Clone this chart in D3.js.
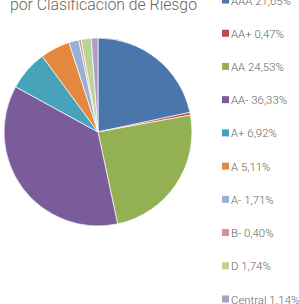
<!DOCTYPE html>
<html><head><meta charset="utf-8">
<script src="https://cdn.jsdelivr.net/npm/d3@7"></script>
<style>body{margin:0;background:#fff;}svg{display:block;}</style>
</head><body>
<svg id="c" width="299" height="304"></svg>
<script>
const categories = ["AAA","AA+","AA","AA-","A+","A","A-","B-","D","Central"];
const values = [21.65,0.47,24.53,36.33,6.92,5.11,1.71,0.40,1.74,1.14];
const labels = ["AAA 21,65%","AA+ 0,47%","AA 24,53%","AA- 36,33%","A+ 6,92%","A 5,11%","A- 1,71%","B- 0,40%","D 1,74%","Central 1.14%"];
const colors = ["#4A76AC","#BE4B48","#93B152","#7A5C9A","#47A3BA","#E4883F","#98AFD6","#D69391","#BDD395","#AE9DC4"];
const title = ["Cartera por Sector","por Clasificación de Riesgo"];

const svg = d3.select("#c");
const font = "'Roboto','Lato',sans-serif";
svg.append("text").attr("x",10).attr("y",10).attr("fill","#666")
  .attr("font-family",font).attr("font-weight",300).attr("font-size",16.5)
  .attr("textLength",187).attr("lengthAdjust","spacingAndGlyphs").text(title[1]);

const pie = d3.pie().sort(null).value(d=>d)(values);
const arc = d3.arc().innerRadius(0).outerRadius(94);
const g = svg.append("g").attr("transform","translate(98,132)");
g.selectAll("path").data(pie).join("path")
  .attr("d",arc).attr("fill",(d,i)=>colors[i])
  .attr("stroke","#fff").attr("stroke-width",0.7);

const y = d3.scalePoint().domain(categories).range([0,299]);
const lg = svg.append("g");
categories.forEach((c,i)=>{
  lg.append("rect").attr("x",222).attr("y",y(c)-3.5).attr("width",7).attr("height",7).attr("fill",colors[i]);
  lg.append("text").attr("x",231).attr("y",y(c)+4.5).attr("fill","#666")
    .attr("font-family",font).attr("font-weight",300).attr("font-size",11.4).text(labels[i]);
});
</script>
</body></html>
